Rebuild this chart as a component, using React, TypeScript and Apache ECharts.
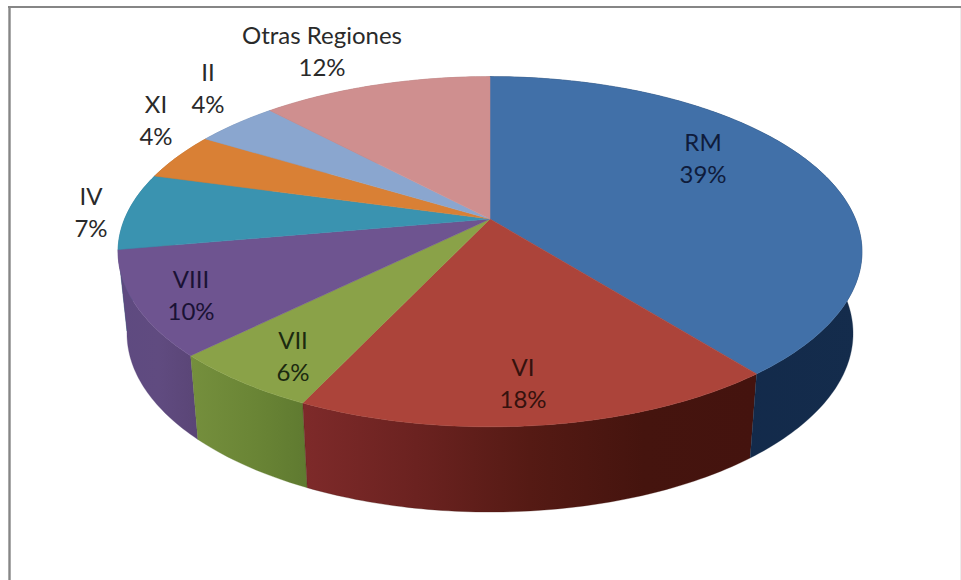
import React, { useEffect, useRef } from "react";
import * as echarts from "echarts";

const regions = ["RM", "VI", "VII", "VIII", "IV", "XI", "II", "Otras Regiones"];
const shares = [39.3, 17.7, 5.6, 9.6, 7.1, 4.4, 4.3, 12];
const topColors = ["#4170a8", "#ac443a", "#8aa248", "#6e5490", "#3a93b0", "#d98035", "#8aa6cf", "#cf8f8f"];
const wallColors = [
  ["#0f2a48", "#12294a", "#142c4c"],
  ["#7e2a2a", "#6b2220", "#551a14", "#45140e", "#44130e"],
  ["#758f3d", "#6b8636", "#5f7a30"],
  ["#5e4a80", "#604b80", "#5a4576"],
  ["#2a7088", "#2a7088"],
  ["#a8632a", "#a8632a"],
  ["#6a82a4", "#6a82a4"],
  ["#a06e6e", "#a06e6e"],
];
const labelColors = ["#0f1c3c", "#35120e", "#1c2a10", "#1a1234", "#2a2a2a", "#2a2a2a", "#2a2a2a", "#2a2a2a"];
// Label centres, in pixels on the page (they were placed by hand in the reference).
const labelCentres = [
  [703, 157], [523, 382], [293, 355], [191, 294], [91, 211], [156, 119], [208, 87], [322, 50],
];

// Projection of the tilted disc.
const APEX_X = 490, APEX_Y = 219, A = 365.4, B = 169, K = 0.187;
const rim = (pct: number) => {
  const t = (pct / 100) * Math.PI * 2;
  const x = Math.sin(t), y = -Math.cos(t);
  const w = 1 - K * y;
  return [(A * x) / w, (B * y) / w];
};
const topPt = (pct: number) => {
  const [x, y] = rim(pct);
  return [APEX_X + x, APEX_Y + y];
};
const bottomPt = (pct: number) => {
  const [x, y] = rim(pct);
  return [APEX_X + 0.976 * x, APEX_Y + 1.02 * y + 81];
};
const startOf = (i: number) => shares.slice(0, i).reduce((a, b) => a + b, 0);
const arcPoints = (i: number, fn: (p: number) => number[]) => {
  const s = startOf(i), n = Math.max(4, Math.round(shares[i] * 4));
  const pts: number[][] = [];
  for (let k = 0; k <= n; k++) pts.push(fn(s + (shares[i] * k) / n));
  return pts;
};

const seriesData = regions.map((name, i) => ({ name, value: [i, shares[i]] }));

export default function App() {
  const ref = useRef<HTMLDivElement>(null);
  useEffect(() => {
    const chart = echarts.init(ref.current!, undefined, { renderer: "svg" });
    chart.setOption({
      animation: false,
      backgroundColor: "#ffffff",
      graphic: [
        { type: "line", z: 0, shape: { x1: 9.5, y1: 6, x2: 9.5, y2: 580 }, style: { stroke: "#868686", lineWidth: 2.4 } },
        { type: "line", z: 0, shape: { x1: 8, y1: 7, x2: 961, y2: 7 }, style: { stroke: "#868686", lineWidth: 2.2 } },
        { type: "line", z: 0, shape: { x1: 960.5, y1: 8, x2: 960.5, y2: 580 }, style: { stroke: "#ececec", lineWidth: 1 } },
      ],
      series: [
        {
          type: "custom",
          coordinateSystem: "none",
          z: 1,
          silent: true,
          // Back slices first, so that the front walls cover them.
          data: seriesData.slice().reverse(),
          renderItem: (_p: any, api: any) => {
            const i = api.value(0);
            const top = arcPoints(i, topPt);
            const bot = arcPoints(i, bottomPt);
            const pts = top.concat(bot.slice().reverse());
            const xs = pts.map((p) => p[0]);
            const x0 = Math.min(...xs), x1 = Math.max(...xs);
            const cols = wallColors[i];
            const fill = new echarts.graphic.LinearGradient(
              x0, 0, x1, 0,
              cols.map((color, k) => ({ offset: k / (cols.length - 1), color })),
              true,
            );
            return { type: "polygon", shape: { points: pts }, style: { fill, stroke: cols[cols.length - 1], lineWidth: 0.3 } };
          },
        },
        {
          type: "custom",
          coordinateSystem: "none",
          z: 2,
          silent: true,
          data: seriesData,
          renderItem: (_p: any, api: any) => {
            const i = api.value(0);
            const pts = [[APEX_X, APEX_Y]].concat(arcPoints(i, topPt));
            return {
              type: "polygon",
              shape: { points: pts },
              style: { fill: topColors[i], stroke: topColors[i], lineWidth: 0.5 },
            };
          },
        },
        {
          type: "custom",
          coordinateSystem: "none",
          z: 3,
          silent: true,
          data: seriesData,
          renderItem: (_p: any, api: any) => {
            const i = api.value(0);
            return {
              type: "text",
              x: labelCentres[i][0],
              y: labelCentres[i][1],
              style: {
                text: `${regions[i]}\n${Math.round(api.value(1))}%`,
                fontFamily: "Lato",
                fontSize: 24,
                lineHeight: 32,
                fill: labelColors[i],
                align: "center",
                verticalAlign: "middle",
              },
            };
          },
        },
      ],
    });
    return () => chart.dispose();
  }, []);
  return <div ref={ref} style={{ position: "absolute", left: 0, top: 0, width: 961, height: 580 }} />;
}
